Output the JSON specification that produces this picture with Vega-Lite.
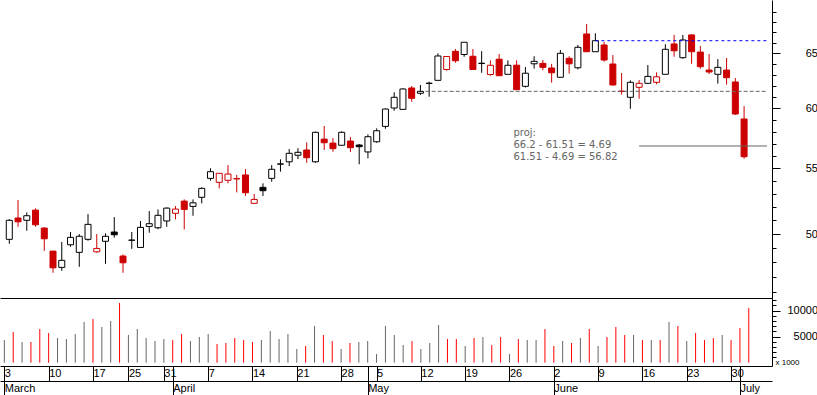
{
  "$schema": "https://vega.github.io/schema/vega-lite/v6.json",
  "padding": 0,
  "spacing": 0,
  "bounds": "flush",
  "background": "white",
  "config": {
    "view": {"stroke": null},
    "axis": {"labelFont": "Liberation Sans", "labelFontSize": 11, "labelColor": "#000000", "domainColor": "#000000", "tickColor": "#000000", "grid": false, "domainWidth": 1, "tickWidth": 1}
  },
  "datasets": {
    "px": [
      {"i":0,"d":"2008-03-03","o":49.62,"h":51.10,"l":49.30,"c":51.01,"v":4365,"dir":"up"},
      {"i":1,"d":"2008-03-04","o":51.18,"h":52.53,"l":50.53,"c":50.90,"v":5900,"dir":"down"},
      {"i":2,"d":"2008-03-05","o":51.01,"h":51.60,"l":50.24,"c":51.35,"v":3980,"dir":"up"},
      {"i":3,"d":"2008-03-06","o":51.77,"h":51.90,"l":50.53,"c":50.68,"v":3980,"dir":"down"},
      {"i":4,"d":"2008-03-07","o":50.44,"h":50.49,"l":48.80,"c":49.66,"v":6480,"dir":"down"},
      {"i":5,"d":"2008-03-10","o":48.78,"h":48.80,"l":47.27,"c":47.61,"v":5710,"dir":"down"},
      {"i":6,"d":"2008-03-11","o":47.64,"h":49.43,"l":47.40,"c":48.13,"v":4750,"dir":"up"},
      {"i":7,"d":"2008-03-12","o":49.23,"h":50.15,"l":49.09,"c":49.76,"v":4560,"dir":"up"},
      {"i":8,"d":"2008-03-13","o":48.69,"h":50.00,"l":47.68,"c":49.84,"v":5520,"dir":"up"},
      {"i":9,"d":"2008-03-14","o":49.62,"h":51.47,"l":49.52,"c":50.71,"v":7830,"dir":"up"},
      {"i":10,"d":"2008-03-17","o":48.73,"h":50.00,"l":48.66,"c":48.97,"v":8400,"dir":"down"},
      {"i":11,"d":"2008-03-18","o":49.48,"h":50.05,"l":47.89,"c":49.84,"v":6870,"dir":"up"},
      {"i":12,"d":"2008-03-19","o":50.15,"h":51.25,"l":49.74,"c":49.95,"v":8020,"dir":"up"},
      {"i":13,"d":"2008-03-20","o":48.43,"h":48.55,"l":47.27,"c":47.96,"v":11480,"dir":"down"},
      {"i":14,"d":"2008-03-25","o":49.55,"h":50.15,"l":48.94,"c":49.57,"v":5330,"dir":"up"},
      {"i":15,"d":"2008-03-26","o":49.04,"h":50.96,"l":49.04,"c":50.49,"v":6480,"dir":"up"},
      {"i":16,"d":"2008-03-27","o":50.56,"h":51.70,"l":50.10,"c":50.76,"v":4750,"dir":"up"},
      {"i":17,"d":"2008-03-28","o":50.46,"h":51.82,"l":50.36,"c":51.38,"v":4170,"dir":"up"},
      {"i":18,"d":"2008-03-31","o":50.96,"h":51.98,"l":50.53,"c":51.92,"v":4560,"dir":"up"},
      {"i":19,"d":"2008-04-01","o":51.53,"h":52.07,"l":51.08,"c":51.85,"v":4365,"dir":"down"},
      {"i":20,"d":"2008-04-02","o":52.45,"h":52.58,"l":50.34,"c":51.82,"v":5520,"dir":"down"},
      {"i":21,"d":"2008-04-03","o":52.05,"h":52.58,"l":51.35,"c":52.32,"v":4170,"dir":"up"},
      {"i":22,"d":"2008-04-04","o":52.74,"h":53.51,"l":52.28,"c":53.43,"v":4940,"dir":"up"},
      {"i":23,"d":"2008-04-07","o":54.21,"h":55.01,"l":54.03,"c":54.74,"v":5520,"dir":"up"},
      {"i":24,"d":"2008-04-08","o":53.90,"h":54.61,"l":53.43,"c":54.61,"v":3600,"dir":"down"},
      {"i":25,"d":"2008-04-09","o":54.06,"h":55.27,"l":53.82,"c":54.55,"v":3790,"dir":"down"},
      {"i":26,"d":"2008-04-10","o":54.19,"h":54.48,"l":53.12,"c":54.17,"v":4750,"dir":"down"},
      {"i":27,"d":"2008-04-11","o":54.48,"h":54.95,"l":52.84,"c":53.09,"v":4365,"dir":"down"},
      {"i":28,"d":"2008-04-14","o":52.28,"h":52.99,"l":52.28,"c":52.58,"v":3980,"dir":"down"},
      {"i":29,"d":"2008-04-15","o":53.51,"h":53.82,"l":52.84,"c":53.25,"v":4365,"dir":"up"},
      {"i":30,"d":"2008-04-16","o":54.21,"h":55.27,"l":53.95,"c":54.93,"v":6100,"dir":"up"},
      {"i":31,"d":"2008-04-17","o":55.34,"h":55.73,"l":54.74,"c":55.36,"v":4560,"dir":"up"},
      {"i":32,"d":"2008-04-18","o":55.53,"h":56.57,"l":55.19,"c":56.22,"v":5520,"dir":"up"},
      {"i":33,"d":"2008-04-21","o":56.06,"h":56.63,"l":55.75,"c":56.30,"v":2630,"dir":"up"},
      {"i":34,"d":"2008-04-22","o":56.49,"h":57.12,"l":55.45,"c":55.86,"v":3210,"dir":"down"},
      {"i":35,"d":"2008-04-23","o":55.53,"h":58.01,"l":55.45,"c":57.96,"v":7060,"dir":"up"},
      {"i":36,"d":"2008-04-24","o":57.39,"h":58.49,"l":56.49,"c":57.09,"v":5330,"dir":"down"},
      {"i":37,"d":"2008-04-25","o":57.06,"h":57.48,"l":56.35,"c":56.60,"v":4170,"dir":"down"},
      {"i":38,"d":"2008-04-28","o":56.88,"h":58.04,"l":56.88,"c":57.96,"v":2630,"dir":"up"},
      {"i":39,"d":"2008-04-29","o":57.23,"h":57.56,"l":56.33,"c":56.68,"v":3790,"dir":"down"},
      {"i":40,"d":"2008-04-30","o":56.90,"h":56.98,"l":55.33,"c":56.76,"v":3980,"dir":"up"},
      {"i":41,"d":"2008-05-02","o":56.33,"h":57.79,"l":55.81,"c":57.59,"v":4170,"dir":"up"},
      {"i":42,"d":"2008-05-05","o":57.17,"h":58.29,"l":57.09,"c":58.09,"v":1670,"dir":"up"},
      {"i":43,"d":"2008-05-06","o":58.46,"h":60.01,"l":58.26,"c":59.95,"v":7060,"dir":"up"},
      {"i":44,"d":"2008-05-07","o":60.04,"h":61.43,"l":59.80,"c":60.98,"v":5330,"dir":"up"},
      {"i":45,"d":"2008-05-08","o":59.92,"h":61.78,"l":59.92,"c":61.72,"v":3400,"dir":"up"},
      {"i":46,"d":"2008-05-09","o":61.81,"h":61.99,"l":60.59,"c":60.89,"v":4170,"dir":"down"},
      {"i":47,"d":"2008-05-12","o":61.34,"h":62.08,"l":61.19,"c":61.51,"v":2630,"dir":"up"},
      {"i":48,"d":"2008-05-13","o":62.22,"h":62.38,"l":61.03,"c":62.24,"v":3790,"dir":"up"},
      {"i":49,"d":"2008-05-14","o":62.50,"h":65.00,"l":62.50,"c":64.75,"v":7250,"dir":"up"},
      {"i":50,"d":"2008-05-15","o":63.49,"h":64.72,"l":63.38,"c":64.70,"v":4560,"dir":"down"},
      {"i":51,"d":"2008-05-16","o":65.19,"h":65.41,"l":64.12,"c":64.30,"v":4560,"dir":"down"},
      {"i":52,"d":"2008-05-19","o":64.89,"h":66.05,"l":64.68,"c":66.05,"v":3210,"dir":"up"},
      {"i":53,"d":"2008-05-20","o":64.72,"h":65.41,"l":63.49,"c":63.49,"v":4750,"dir":"down"},
      {"i":54,"d":"2008-05-21","o":64.05,"h":65.21,"l":63.19,"c":64.07,"v":4940,"dir":"up"},
      {"i":55,"d":"2008-05-22","o":63.03,"h":64.34,"l":62.92,"c":63.88,"v":3400,"dir":"down"},
      {"i":56,"d":"2008-05-23","o":64.45,"h":64.93,"l":62.92,"c":62.92,"v":4940,"dir":"down"},
      {"i":57,"d":"2008-05-26","o":63.05,"h":64.34,"l":63.05,"c":63.88,"v":1670,"dir":"up"},
      {"i":58,"d":"2008-05-27","o":63.89,"h":64.34,"l":61.66,"c":61.66,"v":4560,"dir":"down"},
      {"i":59,"d":"2008-05-28","o":61.96,"h":63.72,"l":61.85,"c":63.15,"v":4365,"dir":"up"},
      {"i":60,"d":"2008-05-29","o":64.02,"h":64.72,"l":63.58,"c":64.25,"v":4365,"dir":"up"},
      {"i":61,"d":"2008-05-30","o":64.06,"h":64.37,"l":63.42,"c":63.69,"v":6480,"dir":"down"},
      {"i":62,"d":"2008-06-02","o":63.63,"h":64.01,"l":62.29,"c":63.19,"v":3210,"dir":"down"},
      {"i":63,"d":"2008-06-03","o":62.78,"h":65.31,"l":62.78,"c":65.00,"v":4170,"dir":"up"},
      {"i":64,"d":"2008-06-04","o":64.53,"h":64.73,"l":63.12,"c":64.02,"v":3790,"dir":"down"},
      {"i":65,"d":"2008-06-05","o":63.65,"h":65.79,"l":63.50,"c":65.57,"v":4750,"dir":"up"},
      {"i":66,"d":"2008-06-06","o":66.85,"h":67.83,"l":65.15,"c":65.15,"v":6480,"dir":"down"},
      {"i":67,"d":"2008-06-09","o":65.15,"h":66.92,"l":65.15,"c":66.20,"v":3210,"dir":"up"},
      {"i":68,"d":"2008-06-10","o":65.79,"h":66.08,"l":64.21,"c":64.37,"v":4940,"dir":"down"},
      {"i":69,"d":"2008-06-11","o":64.00,"h":64.84,"l":62.02,"c":62.08,"v":6870,"dir":"down"},
      {"i":70,"d":"2008-06-12","o":61.53,"h":63.17,"l":61.22,"c":61.50,"v":5330,"dir":"down"},
      {"i":71,"d":"2008-06-13","o":60.98,"h":62.50,"l":59.97,"c":62.32,"v":5330,"dir":"up"},
      {"i":72,"d":"2008-06-16","o":61.87,"h":62.53,"l":60.86,"c":62.23,"v":4365,"dir":"down"},
      {"i":73,"d":"2008-06-17","o":62.23,"h":63.90,"l":62.23,"c":62.86,"v":4365,"dir":"up"},
      {"i":74,"d":"2008-06-18","o":62.32,"h":63.23,"l":62.14,"c":62.82,"v":4365,"dir":"down"},
      {"i":75,"d":"2008-06-19","o":63.05,"h":65.86,"l":63.05,"c":65.38,"v":7830,"dir":"up"},
      {"i":76,"d":"2008-06-20","o":65.89,"h":66.76,"l":64.68,"c":65.24,"v":7060,"dir":"down"},
      {"i":77,"d":"2008-06-23","o":64.59,"h":66.76,"l":64.49,"c":66.27,"v":4170,"dir":"up"},
      {"i":78,"d":"2008-06-24","o":66.76,"h":66.82,"l":64.02,"c":65.15,"v":5710,"dir":"down"},
      {"i":79,"d":"2008-06-25","o":65.12,"h":65.69,"l":63.56,"c":63.75,"v":4365,"dir":"down"},
      {"i":80,"d":"2008-06-26","o":63.44,"h":64.93,"l":63.07,"c":63.26,"v":4750,"dir":"down"},
      {"i":81,"d":"2008-06-27","o":63.05,"h":64.46,"l":62.20,"c":63.69,"v":5330,"dir":"up"},
      {"i":82,"d":"2008-06-30","o":63.44,"h":64.56,"l":62.11,"c":62.74,"v":4365,"dir":"down"},
      {"i":83,"d":"2008-07-01","o":62.35,"h":62.71,"l":59.43,"c":59.52,"v":6680,"dir":"down"},
      {"i":84,"d":"2008-07-02","o":59.09,"h":60.21,"l":55.78,"c":55.94,"v":10520,"dir":"down"}
    ],
    "levels": [
      {"kind":"high","y":66.2,"x1":67,"x2":86.62},
      {"kind":"low","y":61.51,"x1":47.6,"x2":86.62},
      {"kind":"proj","y":56.82,"x1":72,"x2":86.62}
    ],
    "notes": [
      {"t":"proj:","x":57.63,"y":57.9},
      {"t":"66.2 - 61.51 = 4.69","x":57.63,"y":56.9},
      {"t":"61.51 - 4.69 = 56.82","x":57.63,"y":55.92}
    ]
  },
  "vconcat": [
    {
      "width": 772,
      "height": 298,
      "layer": [
        {
          "data": {"name": "px"},
          "mark": {"type": "rule", "strokeWidth": 1},
          "encoding": {
            "x": {"field": "i", "type": "quantitative", "title": null,
                  "scale": {"domain": [-0.49, 86.62], "nice": false, "zero": false},
                  "axis": {"orient": "bottom", "labels": false, "ticks": false, "domain": true, "title": null}},
            "y": {"field": "l", "type": "quantitative", "title": null,
                  "scale": {"type": "log", "domain": [45.57, 70.23], "nice": false},
                  "axis": {"orient": "right", "title": null,
                           "values": [46,47,48,49,50,51,52,53,54,55,56,57,58,59,60,61,62,63,64,65,66,67,68,69],
                           "tickSize": {"condition": {"test": "datum.value % 5 === 0", "value": 8}, "value": 4},
                           "labelExpr": "datum.value % 5 === 0 ? datum.label : ''",
                           "labelAlign": "right", "labelPadding": 37.5, "labelBaseline": "middle"}},
            "y2": {"field": "h"},
            "stroke": {"field": "dir", "type": "nominal", "legend": null,
                       "scale": {"domain": ["up", "down"], "range": ["#000000", "#cc0000"]}}
          }
        },
        {
          "data": {"name": "px"},
          "mark": {"type": "bar", "orient": "vertical", "size": 6, "strokeWidth": 1},
          "encoding": {
            "x": {"field": "i", "type": "quantitative", "title": null},
            "y": {"field": "o", "type": "quantitative", "title": null},
            "y2": {"field": "c"},
            "stroke": {"field": "dir", "type": "nominal", "legend": null,
                       "scale": {"domain": ["up", "down"], "range": ["#000000", "#cc0000"]}},
            "fill": {"condition": {"test": "datum.c > datum.o", "value": "#ffffff"},
                     "field": "dir", "type": "nominal", "legend": null,
                     "scale": {"domain": ["up", "down"], "range": ["#000000", "#cc0000"]}}
          }
        },
        {
          "data": {"name": "levels"},
          "transform": [{"filter": "datum.kind === 'high'"}],
          "mark": {"type": "rule", "color": "#0000ff", "strokeWidth": 1, "strokeDash": [3, 3]},
          "encoding": {
            "x": {"field": "x1", "type": "quantitative", "title": null},
            "x2": {"field": "x2"},
            "y": {"field": "y", "type": "quantitative", "title": null}
          }
        },
        {
          "data": {"name": "levels"},
          "transform": [{"filter": "datum.kind === 'low'"}],
          "mark": {"type": "rule", "color": "#666666", "strokeWidth": 1, "strokeDash": [4, 2]},
          "encoding": {
            "x": {"field": "x1", "type": "quantitative", "title": null},
            "x2": {"field": "x2"},
            "y": {"field": "y", "type": "quantitative", "title": null}
          }
        },
        {
          "data": {"name": "levels"},
          "transform": [{"filter": "datum.kind === 'proj'"}],
          "mark": {"type": "rule", "color": "#666666", "strokeWidth": 1},
          "encoding": {
            "x": {"field": "x1", "type": "quantitative", "title": null},
            "x2": {"field": "x2"},
            "y": {"field": "y", "type": "quantitative", "title": null}
          }
        },
        {
          "data": {"name": "notes"},
          "mark": {"type": "text", "align": "left", "baseline": "middle", "font": "DejaVu Sans", "fontSize": 10, "color": "#666666"},
          "encoding": {
            "x": {"field": "x", "type": "quantitative", "title": null},
            "y": {"field": "y", "type": "quantitative", "title": null},
            "text": {"field": "t"}
          }
        }
      ]
    },
    {
      "width": 772,
      "height": 68,
      "data": {"name": "px"},
      "layer": [
        {
          "transform": [{"filter": "datum.dir === 'up'"}],
          "mark": {"type": "rule", "color": "#666666", "strokeWidth": 1},
          "encoding": {
            "x": {"field": "i", "type": "quantitative", "title": null,
                  "scale": {"domain": [-0.49, 86.62], "nice": false, "zero": false},
                  "axis": {"orient": "bottom", "title": null,
                           "values": [0,5,10,14,18,19,23,28,33,38,41,42,47,52,57,62,67,72,77,82,83],
                           "labelExpr": "['3','10','17','25','31','','7','14','21','28','','5','12','19','26','2','9','16','23','30',''][indexof([0,5,10,14,18,19,23,28,33,38,41,42,47,52,57,62,67,72,77,82,83], datum.value)]",
                           "tickSize": 15, "labelAlign": "left", "labelBaseline": "middle", "labelPadding": -7.5, "labelDx": 2,
                           "labelFlush": false, "labelOverlap": false, "labelBound": false}},
            "y": {"field": "v", "type": "quantitative", "title": null,
                  "scale": {"domain": [-635, 12442], "nice": false, "zero": false},
                  "axis": {"orient": "right", "title": "x 1000", "titleAngle": 0, "titleFontSize": 8, "titleFont": "Liberation Sans", "titleFontWeight": "normal",
                           "titleX": 15, "titleY": 64, "titleAlign": "center", "titleBaseline": "middle",
                           "values": [1000,2000,3000,4000,5000,6000,7000,8000,9000,10000,11000,12000],
                           "tickSize": {"condition": {"test": "datum.value % 5000 === 0", "value": 8}, "value": 4},
                           "labelExpr": "datum.value % 5000 === 0 ? format(datum.value, 'd') : ''",
                           "labelAlign": "right", "labelPadding": 37.5, "labelBaseline": "middle"}},
            "y2": {"datum": 0}
          }
        },
        {
          "transform": [{"filter": "datum.dir === 'down'"}],
          "mark": {"type": "rule", "color": "#ff0000", "strokeWidth": 1},
          "encoding": {
            "x": {"field": "i", "type": "quantitative", "title": null,
                  "scale": {"domain": [-0.49, 86.62], "nice": false, "zero": false},
                  "axis": {"orient": "bottom", "title": null, "offset": 15,
                           "values": [0,19,41,62,83],
                           "labelExpr": "['March','April','May','June','July'][indexof([0,19,41,62,83], datum.value)]",
                           "tickSize": 14, "labelAlign": "left", "labelBaseline": "middle", "labelPadding": -7, "labelDx": 2,
                           "labelFlush": false, "labelOverlap": false, "labelBound": false}},
            "y": {"field": "v", "type": "quantitative", "title": null,
                  "scale": {"domain": [-635, 12442], "nice": false, "zero": false},
                  "axis": {"orient": "right", "title": "x 1000", "titleAngle": 0, "titleFontSize": 8, "titleFont": "Liberation Sans", "titleFontWeight": "normal",
                           "titleX": 15, "titleY": 64, "titleAlign": "center", "titleBaseline": "middle",
                           "values": [1000,2000,3000,4000,5000,6000,7000,8000,9000,10000,11000,12000],
                           "tickSize": {"condition": {"test": "datum.value % 5000 === 0", "value": 8}, "value": 4},
                           "labelExpr": "datum.value % 5000 === 0 ? format(datum.value, 'd') : ''",
                           "labelAlign": "right", "labelPadding": 37.5, "labelBaseline": "middle"}},
            "y2": {"datum": 0}
          }
        }
      ],
      "resolve": {"axis": {"x": "independent", "y": "shared"}}
    }
  ]
}
